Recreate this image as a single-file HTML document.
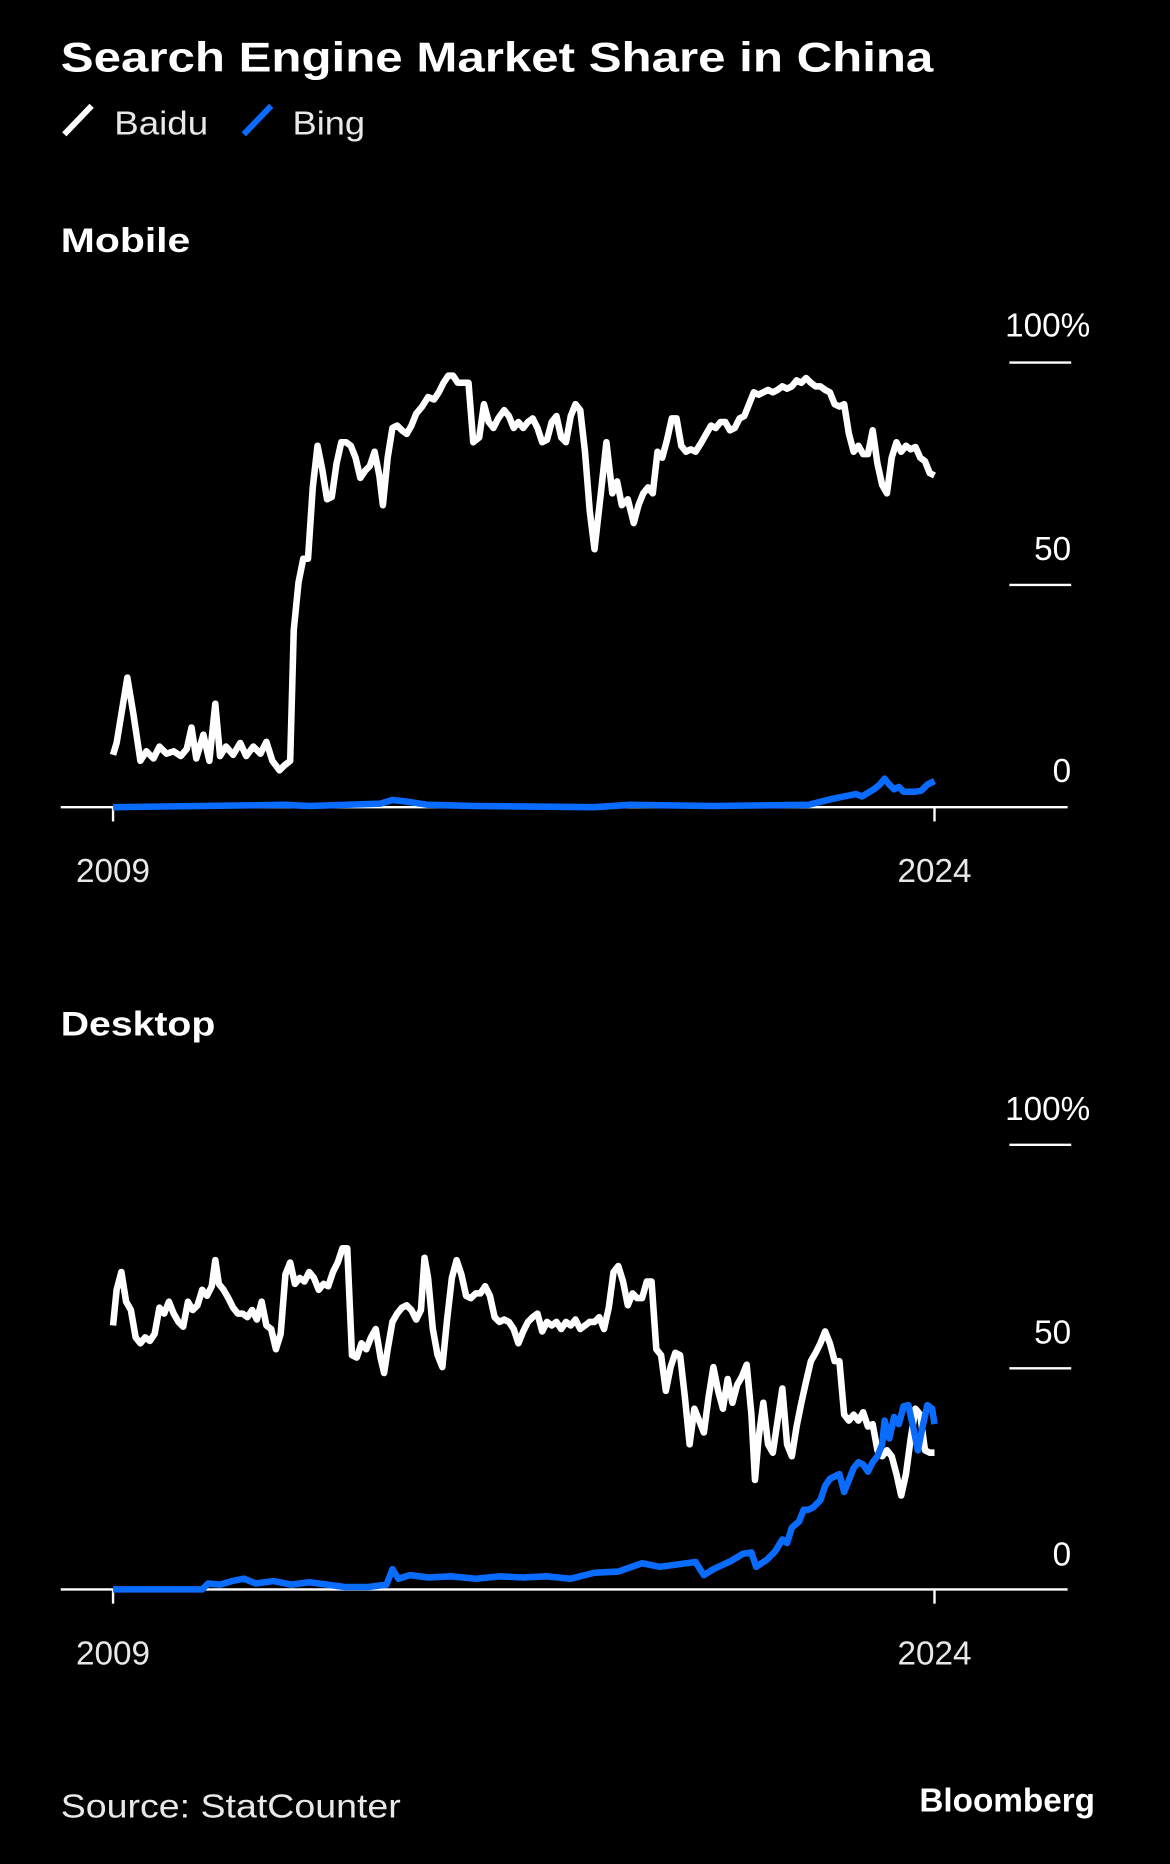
<!DOCTYPE html>
<html><head><meta charset="utf-8"><style>
html,body{margin:0;padding:0;background:#000;}
svg{display:block}
text{font-family:"Liberation Sans",sans-serif;fill:#fff}
.lab{font-size:28px;fill:#e8e8e8}
</style></head><body>
<svg width="1170" height="1864" viewBox="0 0 984 1568" xmlns="http://www.w3.org/2000/svg">
<rect width="984" height="1568" fill="#000"/>
<text x="51" y="60" font-size="35" font-weight="bold" textLength="734" lengthAdjust="spacingAndGlyphs">Search Engine Market Share in China</text>
<line x1="54" y1="113" x2="77" y2="89" stroke="#fff" stroke-width="5"/>
<text x="96" y="113" class="lab" textLength="79" lengthAdjust="spacingAndGlyphs">Baidu</text>
<line x1="205" y1="113" x2="228" y2="89" stroke="#0a6cff" stroke-width="5"/>
<text x="246" y="113" class="lab" textLength="61" lengthAdjust="spacingAndGlyphs">Bing</text>

<text x="51" y="212" font-size="29" font-weight="bold" textLength="109" lengthAdjust="spacingAndGlyphs">Mobile</text>
<g class="lab" text-anchor="end">
<text x="917" y="283">100%</text><text x="901" y="471">50</text><text x="901" y="658">0</text>
</g>
<line x1="849" y1="305" x2="901" y2="305" stroke="#fff" stroke-width="2"/>
<line x1="849" y1="492" x2="901" y2="492" stroke="#fff" stroke-width="2"/>
<line x1="51" y1="679" x2="898" y2="679" stroke="#fff" stroke-width="2"/>
<line x1="95" y1="679" x2="95" y2="691" stroke="#fff" stroke-width="2"/>
<line x1="786" y1="679" x2="786" y2="691" stroke="#fff" stroke-width="2"/>
<text x="95" y="742" class="lab" text-anchor="middle">2009</text>
<text x="786" y="742" class="lab" text-anchor="middle">2024</text>
<polyline fill="none" stroke="#0a6cff" stroke-width="5.5" stroke-linejoin="round" points="95,679 240,677 260,678 320,676 330,673 340,674 360,677 400,678 500,679 530,677 600,678 680,677 700,672 710,670 720,668 725,670 735,664 740,660 744,655 748,660 752,664 756,662 760,666 770,666 775,665 780,660 786,657"/>
<polyline fill="none" stroke="#fff" stroke-width="5.5" stroke-linejoin="round" points="95,635 98,625 107,570 112,600 118,640 123,632 129,638 134,628 140,634 146,632 152,636 157,630 161,612 165,638 171,618 176,640 181,592 185,636 190,628 196,635 202,625 207,636 213,628 219,634 224,624 229,640 235,648 239,644 244,640 247,530 251,490 255,470 259,470 263,410 267,375 271,395 275,420 279,418 283,390 287,372 291,372 295,375 299,385 303,402 307,396 311,392 315,380 319,400 322,425 326,385 330,360 334,358 338,362 342,365 346,358 350,348 355,342 360,334 365,336 369,330 373,322 377,316 381,316 385,322 390,322 394,322 398,372 403,368 407,340 411,355 415,360 419,352 424,345 428,350 432,360 436,355 440,360 444,355 448,352 452,360 456,372 460,370 464,355 468,350 472,368 476,372 480,350 484,340 488,345 492,380 496,430 500,462 505,418 510,372 515,415 519,405 523,425 528,420 533,440 537,425 541,415 545,410 549,415 553,380 557,385 561,370 565,352 569,352 573,375 577,380 581,378 585,380 590,372 594,365 598,358 602,360 606,355 610,355 614,362 618,360 622,352 626,350 630,340 634,330 638,332 642,330 646,328 650,330 654,328 658,325 662,327 666,325 670,320 674,322 678,318 682,322 686,325 690,325 694,328 698,330 702,340 706,342 710,340 714,365 718,380 722,375 726,382 730,382 734,362 738,390 742,408 746,415 750,385 754,372 758,380 762,375 766,378 770,376 774,385 778,388 782,398 786,400"/>

<text x="51" y="871" font-size="29" font-weight="bold" textLength="130" lengthAdjust="spacingAndGlyphs">Desktop</text>
<g class="lab" text-anchor="end">
<text x="917" y="942">100%</text><text x="901" y="1130">50</text><text x="901" y="1317">0</text>
</g>
<line x1="849" y1="963" x2="901" y2="963" stroke="#fff" stroke-width="2"/>
<line x1="849" y1="1151" x2="901" y2="1151" stroke="#fff" stroke-width="2"/>
<line x1="51" y1="1337" x2="898" y2="1337" stroke="#fff" stroke-width="2"/>
<line x1="95" y1="1337" x2="95" y2="1349" stroke="#fff" stroke-width="2"/>
<line x1="786" y1="1337" x2="786" y2="1349" stroke="#fff" stroke-width="2"/>
<text x="95" y="1400" class="lab" text-anchor="middle">2009</text>
<text x="786" y="1400" class="lab" text-anchor="middle">2024</text>
<polyline fill="none" stroke="#fff" stroke-width="5.5" stroke-linejoin="round" points="95,1115 98,1085 102,1070 106,1095 110,1102 114,1125 118,1130 122,1125 126,1128 130,1122 134,1100 138,1105 142,1095 146,1105 150,1112 154,1116 158,1095 162,1102 166,1098 170,1085 174,1090 178,1082 181,1060 184,1080 188,1085 192,1092 196,1100 200,1105 204,1105 208,1108 212,1102 216,1110 220,1095 224,1115 228,1118 232,1135 236,1122 240,1072 244,1062 248,1080 252,1075 256,1078 260,1070 264,1075 268,1085 272,1080 276,1082 280,1070 284,1062 288,1050 292,1050 296,1140 300,1142 304,1130 308,1135 312,1125 316,1118 320,1142 323,1155 326,1135 330,1112 334,1105 338,1100 342,1098 346,1102 350,1110 354,1102 357,1058 360,1075 364,1118 368,1140 372,1150 376,1110 380,1075 384,1060 388,1072 392,1090 396,1092 400,1088 404,1088 408,1082 412,1090 416,1108 420,1112 424,1110 428,1112 432,1118 436,1130 440,1120 444,1112 448,1108 452,1105 456,1120 460,1112 464,1115 468,1112 472,1118 476,1112 480,1115 484,1110 488,1118 492,1115 496,1112 500,1112 504,1108 508,1118 512,1100 516,1070 520,1065 524,1078 528,1098 532,1088 536,1092 540,1092 544,1078 548,1078 552,1135 556,1140 560,1170 564,1150 568,1138 572,1140 576,1175 580,1215 584,1185 588,1195 592,1205 596,1175 600,1150 604,1170 608,1185 612,1160 616,1180 620,1165 624,1158 628,1148 632,1190 635,1245 638,1210 642,1180 646,1215 650,1222 654,1195 658,1168 662,1215 666,1225 670,1200 674,1180 678,1162 682,1145 686,1138 690,1130 694,1120 698,1130 702,1145 706,1145 710,1190 714,1195 718,1190 722,1195 726,1188 730,1200 734,1198 738,1220 742,1225 746,1220 750,1225 754,1240 758,1258 762,1240 766,1210 770,1185 774,1190 778,1220 782,1222 786,1222"/>
<polyline fill="none" stroke="#0a6cff" stroke-width="5.5" stroke-linejoin="round" points="95,1337 170,1337 175,1332 185,1333 195,1330 205,1328 215,1332 230,1330 245,1333 260,1331 275,1333 290,1335 310,1335 325,1333 330,1320 335,1328 345,1325 360,1327 380,1326 400,1328 420,1326 440,1327 460,1326 480,1328 500,1323 520,1322 540,1315 555,1318 570,1316 585,1314 592,1325 600,1320 615,1313 625,1307 632,1306 636,1318 645,1312 652,1305 658,1295 662,1298 666,1285 672,1280 676,1270 680,1270 684,1268 690,1262 694,1250 698,1244 702,1242 706,1240 710,1255 714,1245 718,1235 722,1230 726,1232 730,1238 734,1230 738,1225 742,1215 744,1195 748,1210 752,1192 756,1198 760,1183 764,1182 768,1200 772,1220 776,1200 780,1182 784,1185 786,1198"/>

<text x="51" y="1529" class="lab" textLength="286" lengthAdjust="spacingAndGlyphs">Source: StatCounter</text>
<text x="921" y="1524" font-size="28" font-weight="bold" text-anchor="end">Bloomberg</text>
</svg>
</body></html>
